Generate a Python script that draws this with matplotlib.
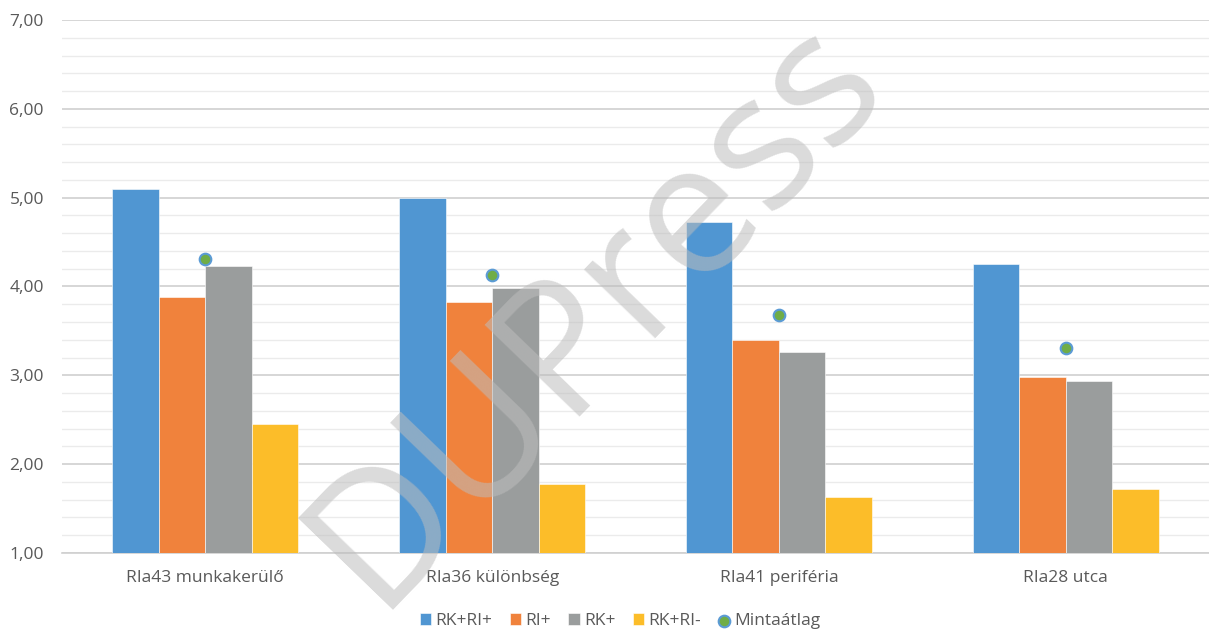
import numpy as np
import matplotlib
matplotlib.use('Agg')
import matplotlib.pyplot as plt

categories = ['RIa43 munkakerülő', 'RIa36 különbség', 'RIa41 periféria', 'RIa28 utca']
series_names = ['RK+RI+', 'RI+', 'RK+', 'RK+RI-']
rk_ri_plus = [5.10, 5.00, 4.73, 4.25]
ri_plus = [3.88, 3.83, 3.40, 2.98]
rk_plus = [4.23, 3.98, 3.26, 2.94]
rk_ri_minus = [2.45, 1.78, 1.63, 1.72]
mintaatlag = [4.31, 4.13, 3.68, 3.31]

colors = ['#5096D2', '#F0823C', '#9A9D9D', '#FCBD29']
txt = '#595959'

plt.rcParams['font.family'] = ['Open Sans', 'DejaVu Sans']

fig = plt.figure(figsize=(12.09, 6.31), dpi=100)
ax = fig.add_axes([62 / 1209, 1 - 553 / 631, 1 - 62 / 1209, (553 - 20) / 631])

x = np.arange(len(categories))
w = 0.162
all_series = [rk_ri_plus, ri_plus, rk_plus, rk_ri_minus]
for i, (vals, name, c) in enumerate(zip(all_series, series_names, colors)):
    ax.bar(x + (i - 1.5) * w, np.array(vals) - 1, bottom=1, width=w, color=c,
           label=name, zorder=3, edgecolor='white', linewidth=0.4)

ax.scatter(x, mintaatlag, s=70, color='#70AD47', edgecolor='#5B9BD5', linewidth=1.5,
           zorder=4, label='Mintaátlag')

ax.set_xlim(-0.5, 3.5)
ax.set_ylim(1, 7)
yt = np.arange(1, 7.01, 1)
ax.set_yticks(yt)
ax.set_yticklabels([('%.2f' % v).replace('.', ',') for v in yt], fontsize=12.5, color=txt)
ax.set_yticks(np.arange(1, 7.01, 0.2), minor=True)
ax.set_xticks(x)
ax.set_xticklabels(categories, fontsize=12.5, color=txt)
ax.tick_params(axis='y', length=0, pad=13)
ax.tick_params(axis='y', which='minor', length=0)
ax.tick_params(axis='x', length=0, pad=12)

ax.grid(axis='y', which='major', color='#D0D0D0', linewidth=1.2, zorder=0)
ax.grid(axis='y', which='minor', color='#EBEBEB', linewidth=1.0, zorder=0)
for s in ['top', 'right', 'left']:
    ax.spines[s].set_visible(False)
ax.spines['bottom'].set_color('#D0D0D0')
ax.spines['bottom'].set_linewidth(1.2)

# Mintaatlag goes last in the legend
handles, labels = ax.get_legend_handles_labels()
order = [1, 2, 3, 4, 0]
leg = fig.legend([handles[k] for k in order], [labels[k] for k in order], loc='center',
                 bbox_to_anchor=(620 / 1209, 1 - 621 / 631), ncol=5, frameon=False,
                 fontsize=12.5, handlelength=0.65, handleheight=0.65,
                 handletextpad=0.25, columnspacing=1.0)
for t in leg.get_texts():
    t.set_color(txt)

# watermark
fig.text(596 / 1209, 1 - 312 / 631, 'DUPress', fontsize=133, color='#BDBDBD', alpha=0.55,
         rotation=46, ha='center', va='center', family='Open Sans', zorder=10)

fig.savefig('out.png', dpi=100)
